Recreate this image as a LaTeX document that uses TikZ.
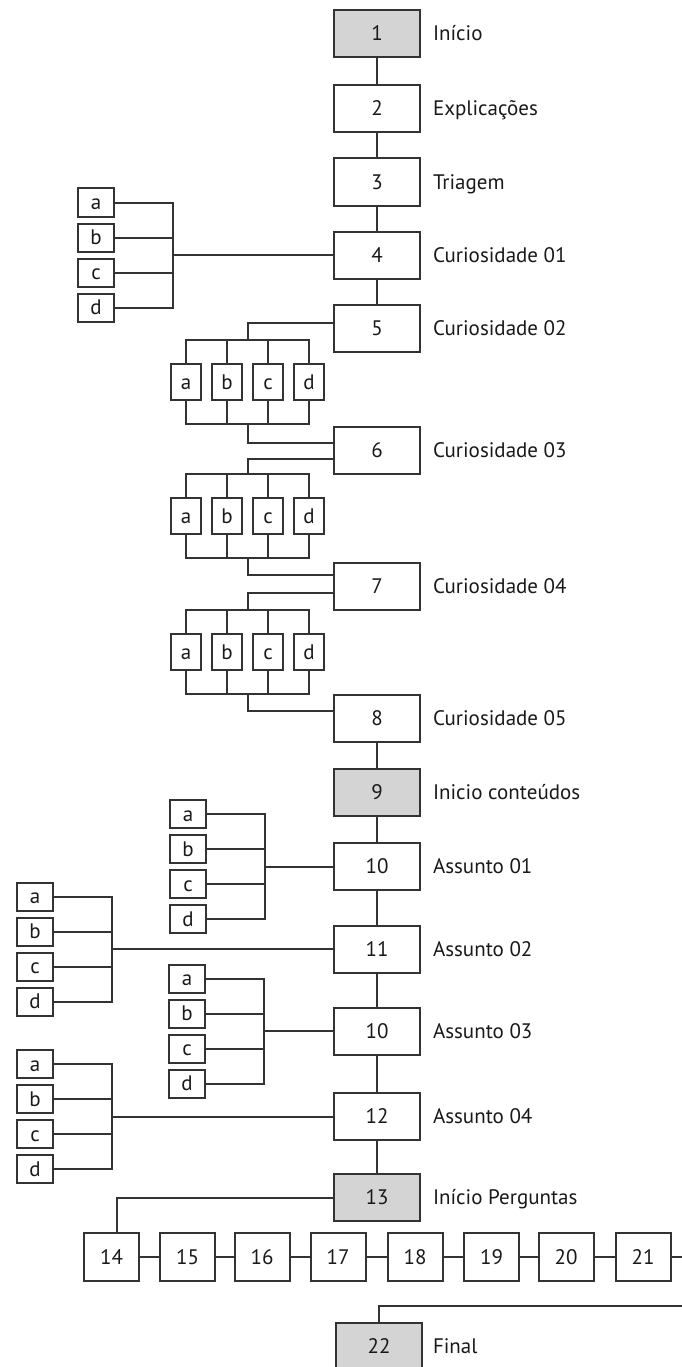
\documentclass[tikz,border=0pt]{standalone}
\usepackage{fontspec}
\setmainfont{PT Sans}
\usetikzlibrary{calc}
\definecolor{linegray}{HTML}{333333}
\definecolor{boxgray}{HTML}{D4D4D4}
\tikzset{
  mainbox/.style={draw=linegray, fill=white, minimum width=86pt, minimum height=47pt, inner sep=0pt, text height=14.5pt, text depth=0pt},
  greybox/.style={mainbox, fill=boxgray},
  qbox/.style={draw=linegray, minimum width=55pt, minimum height=48pt, inner sep=0pt, text height=14.5pt, text depth=0pt},
  optv/.style={draw=linegray, minimum width=36pt, minimum height=28pt, inner sep=0pt, text height=14.5pt, text depth=0pt},
  opth/.style={draw=linegray, minimum width=30pt, minimum height=36pt, inner sep=0pt, text height=14.5pt, text depth=0pt},
  lbl/.style={anchor=west, inner sep=0pt, text height=14.5pt, text depth=0pt}
}
% vertical list of options: name, x, y of the middle
\def\vgroup(#1)(#2,#3){
  \node[optv] (#1a) at (#2,#3-52.5) {a};
  \node[optv] (#1b) at (#2,#3-17.5) {b};
  \node[optv] (#1c) at (#2,#3+17.5) {c};
  \node[optv] (#1d) at (#2,#3+52.5) {d};
  \coordinate (#1j) at (#2+77,#3);
  \draw (#1a.east) -| (#1j) |- (#1d.east);
  \draw (#1b.east) -- (#1b.east -| #1j);
  \draw (#1c.east) -- (#1c.east -| #1j);
}
% horizontal row of options: name, y of the middle
\def\hgroup(#1)(#2){
  \node[opth] (#1a) at (186,#2) {a};
  \node[opth] (#1b) at (227,#2) {b};
  \node[opth] (#1c) at (268,#2) {c};
  \node[opth] (#1d) at (309,#2) {d};
  \coordinate (#1t) at (247.5,#2-42);
  \coordinate (#1u) at (247.5,#2+42);
  \draw (#1a.north) |- (#1t) -| (#1d.north);
  \draw (#1b.north) -- (#1b.north |- #1t);
  \draw (#1c.north) -- (#1c.north |- #1t);
  \draw (#1a.south) |- (#1u) -| (#1d.south);
  \draw (#1b.south) -- (#1b.south |- #1u);
  \draw (#1c.south) -- (#1c.south |- #1u);
}

\begin{document}
\begin{tikzpicture}[x=1pt, y=-1pt, line width=2pt, draw=linegray, text=black!90,
    font=\fontsize{21}{25}\selectfont]
  \useasboundingbox (0,0) rectangle (681,1367);

  %%%%% main column %%%%%
  \node[greybox] (n1) at (377,33.5) {1};
  \node[mainbox] (n2) at (377,108.5) {2};
  \node[mainbox] (n3) at (377,182) {3};
  \node[mainbox] (n4) at (377,255) {4};
  \node[mainbox] (n5) at (377,328.5) {5};
  \node[mainbox] (n6) at (377,450.5) {6};
  \node[mainbox] (n7) at (377,586) {7};
  \node[mainbox] (n8) at (377,718) {8};
  \node[greybox] (n9) at (377,792) {9};
  \node[mainbox] (n10) at (377,866.5) {10};
  \node[mainbox] (n11) at (377,949) {11};
  \node[mainbox] (n10b) at (377,1031) {10};
  \node[mainbox] (n12) at (377,1116.5) {12};
  \node[greybox] (n13) at (377,1197.5) {13};
  \node[greybox] (n22) at (379,1346) {22};

  \node[lbl] (l1) at (432,33.5) {Início};
  \node[lbl] (l2) at (432,108.5) {Explicações};
  \node[lbl] (l3) at (432,182) {Triagem};
  \node[lbl] (l4) at (432,255) {Curiosidade 01};
  \node[lbl] (l5) at (432,328.5) {Curiosidade 02};
  \node[lbl] (l6) at (432,450.5) {Curiosidade 03};
  \node[lbl] (l7) at (432,586) {Curiosidade 04};
  \node[lbl] (l8) at (432,718) {Curiosidade 05};
  \node[lbl] (l9) at (432,792) {Inicio conteúdos};
  \node[lbl] (l10) at (432,866.5) {Assunto 01};
  \node[lbl] (l11) at (432,949) {Assunto 02};
  \node[lbl] (l10b) at (432,1031) {Assunto 03};
  \node[lbl] (l12) at (432,1116.5) {Assunto 04};
  \node[lbl] (l13) at (432,1197.5) {Início Perguntas};
  \node[lbl] (l22) at (432,1346) {Final};

  \draw (n1) -- (n2);
  \draw (n2) -- (n3);
  \draw (n3) -- (n4);
  \draw (n4) -- (n5);
  \draw (n8) -- (n9);
  \draw (n9) -- (n10);
  \draw (n10) -- (n11);
  \draw (n11) -- (n10b);
  \draw (n10b) -- (n12);
  \draw (n12) -- (n13);

  %%%%% options %%%%%
  \vgroup(g4)(96,255)
  \draw (g4j) -- (n4.west);

  \hgroup(g5)(382)
  \hgroup(g6)(516)
  \hgroup(g7)(652)
  \draw ([yshift=6pt]n5.west) -| (g5t);
  \draw (g5u) |- ([yshift=8pt]n6.west);
  \draw ([yshift=-8pt]n6.west) -| (g6t);
  \draw (g6u) |- ([yshift=11pt]n7.west);
  \draw ([yshift=-7pt]n7.west) -| (g7t);
  \draw (g7u) |- ([yshift=7pt]n8.west);

  \vgroup(g10)(188,866.5)
  \draw (g10j) -- (n10.west);
  \vgroup(g11)(35,949)
  \draw (g11j) -- (n11.west);
  \vgroup(g10b)(187,1031)
  \draw (g10bj) -- (n10b.west);
  \vgroup(g12)(35,1116.5)
  \draw (g12j) -- (n12.west);

  %%%%% questions %%%%%
  \node[qbox] (n14) at (111.5,1257) {14};
  \node[qbox] (n15) at (187.5,1257) {15};
  \node[qbox] (n16) at (262,1257) {16};
  \node[qbox] (n17) at (338,1257) {17};
  \node[qbox] (n18) at (415,1257) {18};
  \node[qbox] (n19) at (491.5,1257) {19};
  \node[qbox] (n20) at (566,1257) {20};
  \node[qbox] (n21) at (643,1257) {21};

  \draw (n13.west) -| ([xshift=5pt]n14.north);
  \draw (n14) -- (n15);
  \draw (n15) -- (n16);
  \draw (n16) -- (n17);
  \draw (n17) -- (n18);
  \draw (n18) -- (n19);
  \draw (n19) -- (n20);
  \draw (n20) -- (n21);
  \coordinate (turn) at (700,1306);
  \draw (n21.east) -| (turn) -| (n22.north);
\end{tikzpicture}
\end{document}
